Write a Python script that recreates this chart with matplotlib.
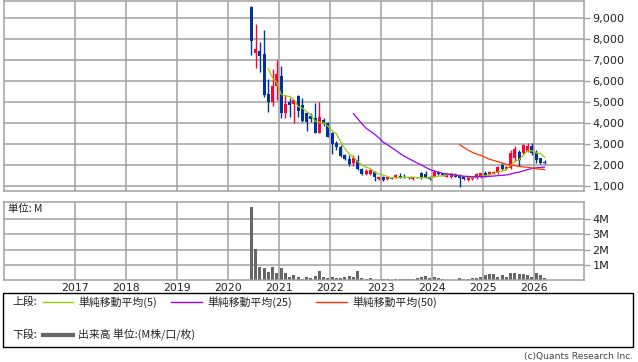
import matplotlib
matplotlib.use('Agg')
import matplotlib.pyplot as plt
import numpy as np
import pandas as pd
from matplotlib.patches import Rectangle
from matplotlib.lines import Line2D
from matplotlib.ticker import FuncFormatter

# ---------------- data (monthly candles, Jun 2020 - Mar 2026) ----------------
start_month = '2020-06'
end_month = '2026-03'
opens = [9500, 7300, 7410, 7260, 5390, 5000, 5740, 6210, 4470, 5000,
         4920, 5280, 4840, 4450, 4320, 4210, 3530, 4150, 4000, 3500,
         3050, 2860, 2470, 2280, 2080, 2230, 1790, 1570, 1570, 1680,
         1320, 1440, 1320, 1380, 1410, 1470, 1450, 1410, 1320, 1420,
         1600, 1570, 1440, 1440, 1650, 1600, 1440, 1410, 1560, 1520,
         1410, 1280, 1320, 1360, 1410, 1630, 1520, 1570, 1600, 2000,
         1800, 1840, 2310, 2630, 2580, 2670, 2900, 2580, 2310, 2150]
highs = [9530, 8680, 7820, 8390, 6070, 6550, 6970, 6720, 5310, 5170,
         5100, 5310, 5160, 4520, 4460, 4930, 5000, 4250, 4050, 3570,
         3150, 2940, 2520, 2470, 2470, 2470, 1840, 1790, 1800, 1720,
         1430, 1480, 1430, 1420, 1560, 1600, 1580, 1450, 1430, 1450,
         1650, 1700, 1480, 1740, 1700, 1640, 1600, 1620, 1600, 1560,
         1450, 1430, 1460, 1600, 1620, 1700, 1720, 1720, 1950, 2080,
         1950, 2700, 2880, 2700, 3000, 3050, 3050, 2700, 2350, 2250]
lows = [7210, 6590, 6400, 5230, 4520, 4790, 5080, 4210, 4220, 4280,
        3970, 4280, 4050, 3620, 4050, 3500, 3530, 3850, 3310, 2520,
        2710, 2390, 2230, 1950, 1950, 1760, 1520, 1520, 1530, 1250,
        1300, 1260, 1290, 1320, 1380, 1390, 1380, 1350, 1290, 1360,
        1320, 1360, 1290, 1420, 1520, 1470, 1420, 1390, 1420, 970,
        1290, 1260, 1300, 1340, 1400, 1420, 1500, 1550, 1580, 1770,
        1780, 1820, 2170, 1950, 2500, 2600, 2450, 2100, 2050, 2050]
closes = [7890, 7490, 7190, 5310, 4970, 5740, 6310, 4470, 4890, 4870,
          5080, 4570, 4100, 4050, 4160, 3530, 4280, 3950, 3340, 2990,
          2860, 2420, 2270, 2040, 2310, 1790, 1570, 1720, 1760, 1410,
          1410, 1290, 1410, 1350, 1520, 1410, 1400, 1380, 1410, 1390,
          1410, 1380, 1320, 1680, 1550, 1500, 1580, 1600, 1440, 1360,
          1320, 1410, 1440, 1550, 1600, 1440, 1680, 1680, 1920, 1790,
          1900, 2550, 2750, 2230, 2940, 2900, 2550, 2230, 2080, 2070]
volumes_m = [4.81, 2.05, 0.85, 0.78, 0.54, 0.87, 0.50, 0.80, 0.50, 0.24,
             0.35, 0.22, 0.10, 0.22, 0.15, 0.28, 0.61, 0.22, 0.13, 0.22,
             0.13, 0.13, 0.24, 0.28, 0.24, 0.61, 0.15, 0.11, 0.15, 0.05,
             0.05, 0.09, 0.09, 0.05, 0.09, 0.09, 0.09, 0.09, 0.09, 0.13,
             0.22, 0.30, 0.13, 0.22, 0.15, 0.09, 0.05, 0.03, 0.03, 0.13,
             0.11, 0.11, 0.13, 0.17, 0.20, 0.33, 0.39, 0.39, 0.24, 0.35,
             0.24, 0.46, 0.50, 0.39, 0.39, 0.35, 0.24, 0.50, 0.35, 0.17]
year_ticks = [2017, 2018, 2019, 2020, 2021, 2022, 2023, 2024, 2025, 2026]
price_ticks = [1000, 2000, 3000, 4000, 5000, 6000, 7000, 8000, 9000]
vol_ticks = [1, 2, 3, 4]
vol_tick_labels = ['1M', '2M', '3M', '4M']
ma_windows = [5, 25, 50]
ma_labels = ['単純移動平均(5)', '単純移動平均(25)', '単純移動平均(50)']

# ---------------- style ----------------
W, H = 638, 362
UP = '#ff0033'
DOWN = '#003399'
MA_COLORS = ['#99cc00', '#9900ff', '#ff3300']
GRID = '#a0a0a0'
VOLC = '#666666'
TXT = '#222222'
JP = ['Noto Sans CJK JP', 'DejaVu Sans']
plt.rcParams['font.family'] = ['DejaVu Sans']

def fx(px):
    return px / W

def fy(py):
    return 1 - py / H

months = pd.period_range(start_month, end_month, freq='M')
x = np.array([p.year + (p.month - 0.5) / 12 for p in months])
o = np.array(opens, float)
h = np.array(highs, float)
l = np.array(lows, float)
c = np.array(closes, float)
v = np.array(volumes_m, float)

fig = plt.figure(figsize=(W / 100, H / 100), dpi=100)

XL = (2015.608, 2026.98)

# top panel
ax = fig.add_axes([fx(4), fy(190.7), fx(584) - fx(4), fy(1) - fy(190.7)])
ax.set_xlim(*XL)
ax.set_ylim(777, 9790)
for yv in price_ticks:
    ax.axhline(yv, color=GRID, lw=1.1, zorder=0)
for xv in year_ticks:
    ax.axvline(xv, color=GRID, lw=1.1, zorder=0)

bw = 0.7 / 12
colors = [UP if cc >= oo else DOWN for oo, cc in zip(o, c)]
ax.vlines(x, l, h, colors=colors, lw=1.0, zorder=2)
body_bottom = np.minimum(o, c)
body_h = np.maximum(np.abs(c - o), 25)
ax.bar(x, body_h, bottom=body_bottom, width=bw, color=colors, lw=0, zorder=3)

cs = pd.Series(c)
for win, col in zip(ma_windows, MA_COLORS):
    ma = cs.rolling(win).mean()
    ax.plot(x, ma, color=col, lw=0.9, zorder=4)

ax.set_xticks([])
ax.yaxis.tick_right()
ax.set_yticks(price_ticks)
ax.yaxis.set_major_formatter(FuncFormatter(lambda val, pos: f'{int(val):,}'))
ax.tick_params(axis='y', direction='out', length=4, width=1, color=GRID,
               labelsize=8.1, pad=2, labelcolor=TXT)
for s in ax.spines.values():
    s.set_color(GRID)
    s.set_linewidth(1.1)

# volume panel
axv = fig.add_axes([fx(4), fy(280.3), fx(584) - fx(4), fy(201.7) - fy(280.3)])
axv.set_xlim(*XL)
axv.set_ylim(0, 5.14)
for yv in vol_ticks:
    axv.axhline(yv, color=GRID, lw=1.1, zorder=0)
for xv in year_ticks:
    axv.axvline(xv, color=GRID, lw=1.1, zorder=0)
axv.bar(x, v, width=bw, color=VOLC, lw=0, zorder=2)
axv.yaxis.tick_right()
axv.set_yticks(vol_ticks)
axv.set_yticklabels(vol_tick_labels)
axv.tick_params(axis='y', direction='out', length=4, width=1, color=GRID,
                labelsize=8.1, pad=2, labelcolor=TXT)
axv.set_xticks(year_ticks)
axv.set_xticklabels([str(yv) for yv in year_ticks])
axv.tick_params(axis='x', length=0, labelsize=7.8, pad=2, labelcolor=TXT)
for s in axv.spines.values():
    s.set_color(GRID)
    s.set_linewidth(1.1)
axv.text(fx(8), fy(209), '単位: M', transform=fig.transFigure, family=JP,
         fontsize=7.5, va='center', ha='left', color=TXT)

# legend box
fig.patches.append(Rectangle((fx(3), fy(347)), fx(633) - fx(3), fy(293) - fy(347),
                             transform=fig.transFigure, fill=False, ec='black', lw=1.0))
fig.text(fx(12), fy(302), '上段:', family=JP, fontsize=7.8, va='center', ha='left', color=TXT)
lx = [(43, 73, 78), (171, 202, 207), (316, 347, 352)]
for (x0, x1, tx), col, lab in zip(lx, MA_COLORS, ma_labels):
    fig.add_artist(Line2D([fx(x0), fx(x1)], [fy(302), fy(302)], color=col, lw=1.0,
                          transform=fig.transFigure))
    fig.text(fx(tx), fy(302), lab, family=JP, fontsize=7.8, va='center', ha='left', color=TXT)
fig.text(fx(12), fy(335), '下段:', family=JP, fontsize=7.8, va='center', ha='left', color=TXT)
fig.add_artist(Line2D([fx(43), fx(73)], [fy(335), fy(335)], color=VOLC, lw=3.0,
                      transform=fig.transFigure))
fig.text(fx(78), fy(335), '出来高 単位:(M株/口/枚)', family=JP, fontsize=7.8, va='center',
         ha='left', color=TXT)
fig.text(fx(633), fy(356), '(c)Quants Research Inc.', fontsize=6.6, va='center', ha='right',
         color='#444444')

fig.savefig('out.png', dpi=100)
